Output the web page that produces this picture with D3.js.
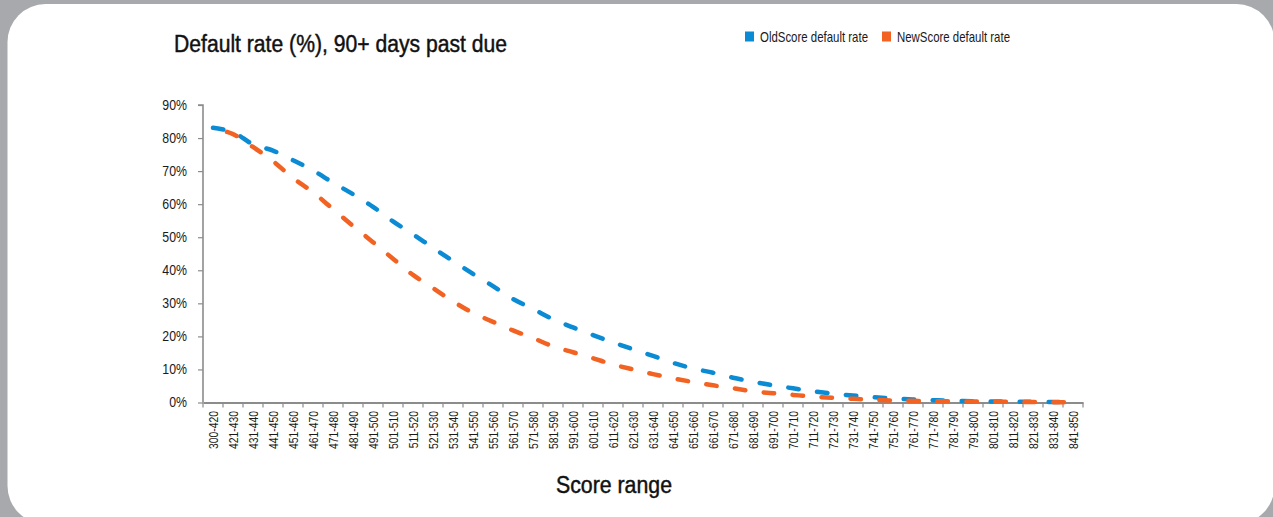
<!DOCTYPE html>
<html>
<head>
<meta charset="utf-8">
<script src="https://cdn.jsdelivr.net/npm/d3@7"></script>
<style>
  html, body { margin: 0; padding: 0; background: #a7a9ac; }
  svg { display: block; }
  text { font-family: "Liberation Sans", Arial, sans-serif; }
  .axis path, .axis line { stroke: #8c8c8c; }
  .axis text { fill: #1a1a1a; }
  .heavy { stroke: #111; stroke-width: 0.45px; }
</style>
</head>
<body>
<svg id="chart" width="1273" height="517"></svg>
<script>
// ---------------- DATA ----------------
const categories = ["300-420", "421-430", "431-440", "441-450", "451-460", "461-470", "471-480",
  "481-490", "491-500", "501-510", "511-520", "521-530", "531-540", "541-550", "551-560",
  "561-570", "571-580", "581-590", "591-600", "601-610", "611-620", "621-630", "631-640",
  "641-650", "651-660", "661-670", "671-680", "681-690", "691-700", "701-710", "711-720",
  "721-730", "731-740", "741-750", "751-760", "761-770", "771-780", "781-790", "791-800",
  "801-810", "811-820", "821-830", "831-840", "841-850"];

const oldScore = [83.1, 81.8, 78.1, 76.2, 73.3, 70.2, 66.5, 63.0, 59.2, 54.8, 50.9, 46.8, 42.8, 38.9,
  35.2, 31.3, 28.3, 25.2, 22.7, 20.4, 18.2, 16.1, 14.1, 12.0, 10.3, 9.0, 7.5, 6.3, 5.2, 4.3,
  3.4, 2.7, 2.1, 1.6, 1.2, 0.9, 0.7, 0.5, 0.4, 0.3, 0.25, 0.2, 0.15, 0.1];

const newScore = [83.0, 81.2, 77.3, 73.0, 67.9, 63.6, 58.5, 53.4, 48.5, 43.5, 38.6, 34.6, 30.6, 27.1,
  24.4, 21.8, 19.5, 17.0, 15.2, 13.4, 11.5, 10.0, 8.6, 7.3, 6.2, 5.2, 4.3, 3.4, 2.8, 2.3,
  1.8, 1.4, 1.1, 0.8, 0.6, 0.5, 0.4, 0.35, 0.3, 0.25, 0.2, 0.15, 0.1, 0.1];

const yTicks = [0, 10, 20, 30, 40, 50, 60, 70, 80, 90];

const seriesNames = ["OldScore default rate", "NewScore default rate"];
const colors = ["#0a8bd4", "#f26222"];

// squeeze text horizontally to get the condensed look (no condensed font installed)
function condense(sel, factor) {
  sel.each(function() {
    const len = this.getComputedTextLength();
    d3.select(this).attr("textLength", len * factor).attr("lengthAdjust", "spacingAndGlyphs");
  });
}

// ---------------- LAYOUT ----------------
const svg = d3.select("#chart");
const plot = { left: 203, right: 1083, top: 105, bottom: 402.5 };

// card
svg.append("rect")
  .attr("x", 7.5).attr("y", 4)
  .attr("width", 1267).attr("height", 520)
  .attr("rx", 38).attr("ry", 38)
  .attr("fill", "#ffffff");

// ---------------- SCALES ----------------
const x = d3.scaleBand().domain(categories).range([plot.left, plot.right]).padding(0);
const y = d3.scaleLinear().domain([0, 90]).range([plot.bottom, plot.top]);

// ---------------- AXES ----------------
const yAxis = d3.axisLeft(y)
  .tickValues(yTicks)
  .tickFormat(d => d + "%")
  .tickSize(5)
  .tickPadding(11);

svg.append("g")
  .attr("class", "axis y-axis")
  .attr("transform", "translate(" + plot.left + ",0)")
  .call(yAxis)
  .call(g => g.select(".domain").attr("d", "M-5," + y(90) + "H0V" + y(0)).attr("stroke-width", 1.6))
  .call(g => g.selectAll(".tick line").attr("stroke-width", 1.2))
  .selectAll("text")
  .style("font-size", "14px")
  .call(condense, 0.88);

const xAxis = d3.axisBottom(x).tickSize(0).tickPadding(0);

const gx = svg.append("g")
  .attr("class", "axis x-axis")
  .attr("transform", "translate(0," + plot.bottom + ")")
  .call(xAxis);

gx.select(".domain").attr("stroke-width", 1.8);

gx.selectAll("text")
  .attr("transform", "rotate(-90)")
  .attr("x", -8.5)
  .attr("y", 0)
  .attr("dy", "0.36em")
  .style("text-anchor", "end")
  .style("font-size", "12.5px")
  .call(condense, 0.83);

// boundary ticks between categories
const boundaries = categories.map(c => x(c)).concat([x.range()[1]]);
gx.selectAll(".bound")
  .data(boundaries)
  .enter()
  .append("line")
  .attr("class", "bound")
  .attr("x1", d => d).attr("x2", d => d)
  .attr("y1", 0).attr("y2", 5)
  .attr("stroke", "#8c8c8c")
  .attr("stroke-width", 1.2);

// ---------------- LINES ----------------
const line = d3.line()
  .curve(d3.curveCatmullRom.alpha(0.5))
  .x((d, i) => x(categories[i]) + x.bandwidth() / 2)
  .y(d => y(d));

[oldScore, newScore].forEach(function(values, i) {
  svg.append("path")
    .attr("class", "line")
    .attr("d", line(values))
    .attr("fill", "none")
    .attr("stroke", colors[i])
    .attr("stroke-width", 4.5)
    .attr("stroke-linecap", "round")
    .attr("stroke-dasharray", "10.5,18.5")
    .attr("stroke-dashoffset", i === 1 ? 14.5 : 0);
});

// ---------------- TITLES ----------------
svg.append("text")
  .attr("class", "heavy")
  .attr("x", 174).attr("y", 52)
  .style("font-size", "23px")
  .attr("fill", "#111")
  .attr("textLength", 333).attr("lengthAdjust", "spacingAndGlyphs")
  .text("Default rate (%), 90+ days past due");

svg.append("text")
  .attr("class", "heavy")
  .attr("x", 556).attr("y", 493)
  .style("font-size", "23px")
  .attr("fill", "#111")
  .attr("textLength", 116).attr("lengthAdjust", "spacingAndGlyphs")
  .text("Score range");

// ---------------- LEGEND ----------------
const legendX = [745, 882];
const legendW = [108, 113];
seriesNames.forEach(function(name, i) {
  const g = svg.append("g").attr("transform", "translate(" + legendX[i] + ",0)");
  g.append("rect")
    .attr("x", 0).attr("y", 31.5)
    .attr("width", 9).attr("height", 10)
    .attr("fill", colors[i]);
  g.append("text")
    .attr("x", 15).attr("y", 42)
    .style("font-size", "15px")
    .attr("fill", "#1a1a1a")
    .attr("textLength", legendW[i]).attr("lengthAdjust", "spacingAndGlyphs")
    .text(name);
});
</script>
</body>
</html>
